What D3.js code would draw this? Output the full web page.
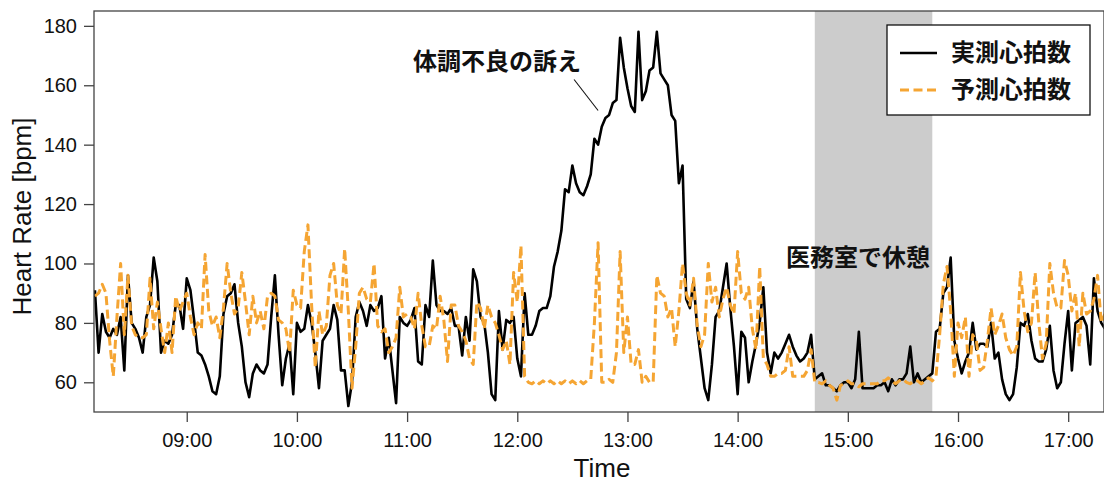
<!DOCTYPE html>
<html>
<head>
<meta charset="utf-8">
<script src="https://cdn.jsdelivr.net/npm/d3@7"></script>
<style>
  html, body { margin: 0; padding: 0; background: #fff; }
  svg { display: block; }
</style>
</head>
<body>
<svg id="chart" width="1104" height="484"></svg>
<script>
// Heart-rate log, one sample every 2 minutes starting at 08:10
const sampleStart = "08:10";
const sampleStepMin = 2;

// Measured heart rate [bpm]
const actualHR = [
  91, 70, 83, 77, 75, 78, 76, 82, 64, 96,
  80, 78, 75, 70, 82, 86, 102, 94, 70, 74,
  73, 76, 86, 86, 78, 95, 91, 81, 70, 69,
  66, 62, 57, 56, 62, 83, 89, 90, 93, 80,
  72, 60, 55, 63, 66, 64, 63, 66, 82, 96,
  76, 59, 68, 73, 56, 80, 77, 78, 86, 80,
  70, 58, 74, 76, 78, 86, 81, 64, 64, 52,
  60, 82, 87, 84, 79, 86, 84, 85, 89, 68,
  75, 64, 53, 82, 80, 79, 81, 85, 67, 66,
  86, 82, 101, 86, 84, 84, 83, 85, 79, 79,
  69, 82, 74, 98, 94, 82, 80, 70, 56, 54,
  84, 71, 81, 80, 82, 68, 62, 90, 76, 76,
  79, 84, 85, 85, 89, 99, 104, 111, 125, 124,
  133, 127, 124, 123, 126, 130, 142, 140, 146, 149,
  150, 154, 155, 176, 166, 159, 153, 151, 178, 155,
  158, 165, 166, 178, 164, 162, 160, 150, 148, 127,
  133, 88, 85, 94, 78, 68, 58, 54, 66, 82,
  84, 92, 100, 85, 72, 56, 77, 75, 60, 67,
  73, 80, 92, 70, 63, 70, 68, 70, 73, 76,
  72, 69, 67, 68, 70, 76, 61, 62, 63, 59,
  59, 58, 57, 59, 60, 60, 58, 61, 77, 58,
  58, 58, 58, 59, 59, 60, 57, 61, 59, 61,
  61, 63, 72, 60, 63, 60, 61, 62, 63, 77,
  78, 90, 92, 102, 74, 68, 63, 67, 70, 80,
  71, 73, 73, 72, 80, 68, 70, 61, 56, 54,
  56, 65, 80, 79, 83, 74, 68, 67, 67, 71,
  79, 64, 58, 60, 73, 84, 64, 80, 81, 82,
  79, 66, 95, 84, 80, 78
];

// Model-predicted heart rate [bpm]
const predictedHR = [
  89, 90, 93, 90, 74, 62, 82, 100, 76, 96,
  79, 76, 75, 75, 76, 95, 78, 87, 78, 70,
  80, 70, 89, 84, 87, 90, 82, 76, 80, 78,
  103, 84, 79, 82, 75, 85, 100, 90, 83, 85,
  97, 87, 76, 89, 80, 84, 78, 89, 90, 89,
  81, 80, 78, 70, 91, 86, 85, 104, 113, 86,
  65, 84, 76, 79, 96, 100, 86, 83, 105, 84,
  58, 72, 90, 92, 88, 87, 100, 79, 77, 78,
  70, 72, 75, 92, 82, 83, 82, 78, 90, 79,
  72, 72, 79, 78, 89, 81, 67, 86, 86, 79,
  77, 74, 68, 66, 87, 85, 78, 86, 82, 80,
  76, 71, 74, 66, 97, 87, 106, 62, 60, 59.5,
  60.5, 59.5, 60.5, 59.5, 60.5, 59.5, 60.5, 59.5, 60.5, 59.5,
  60.5, 59.5, 60.5, 59.5, 60.5, 61, 80, 107, 60, 60,
  61, 60, 70, 104, 70, 82, 66, 66, 71, 60,
  62, 60, 60, 96, 90, 89, 82, 85, 72, 84,
  100, 90, 86, 95, 79, 72, 76, 100, 87, 92,
  82, 88, 92, 86, 83, 104, 90, 88, 92, 78,
  71, 99, 68, 66, 62, 62, 63, 63, 64, 72,
  62, 62, 62, 62, 64, 71, 60, 60, 59.5, 60.5,
  59, 58, 54, 59, 59.5, 60.5, 59.5, 59.5, 58.5, 59.5,
  59.5, 59.5, 59.5, 59.5, 60.5, 60.5, 61.5, 60.5, 59.5, 60.5,
  61, 60, 59.5, 60.5, 60.5, 59.5, 60.5, 61.5, 60.5, 62,
  76, 93, 99, 84, 62, 80, 75, 82, 62, 76,
  74, 64, 65, 74, 85, 76, 79, 83, 75, 71,
  69, 72, 97, 84, 77, 80, 97, 80, 68, 73,
  100, 90, 85, 85, 101, 96, 84, 90, 72, 90,
  83, 84, 88, 96, 80, 83
];

// Axis settings
const timeRange = ["08:09:30", "17:19:30"];
const hrRange = [50, 185];
const hrTicks = [60, 80, 100, 120, 140, 160, 180];
const hourTicks = ["09:00", "10:00", "11:00", "12:00", "13:00", "14:00", "15:00", "16:00", "17:00"];

// Rest period in the infirmary
const restPeriod = ["14:42", "15:46"];

// Text
const legendLabels = ["実測心拍数", "予測心拍数"];
const complaintNote = { time: "12:44", hr: 151.5, text: "体調不良の訴え" };
const restNote = "医務室で休憩";
const xTitle = "Time";
const yTitle = "Heart Rate [bpm]";

const parseHM = d3.timeParse("%H:%M");
const parseHMS = d3.timeParse("%H:%M:%S");

const t0 = parseHM(sampleStart);
const toSeries = vals => vals.map((v, i) => ({
  t: d3.timeMinute.offset(t0, i * sampleStepMin), v
}));
const actual = toSeries(actualHR);
const predicted = toSeries(predictedHR);

const plot = { left: 94, right: 1104, top: 11, bottom: 412 };

const x = d3.scaleTime()
  .domain(timeRange.map(parseHMS))
  .range([plot.left, plot.right]);
const y = d3.scaleLinear()
  .domain(hrRange)
  .range([plot.bottom, plot.top]);

const svg = d3.select("#chart");
const latin = "'Liberation Sans', Arial, Helvetica, sans-serif";
const cjk = "'Noto Sans CJK JP', 'Noto Sans CJK SC', sans-serif";
const orange = "#F5A533";

svg.append("defs").append("clipPath").attr("id", "plotClip")
  .append("rect")
  .attr("x", plot.left).attr("y", plot.top)
  .attr("width", plot.right - plot.left).attr("height", plot.bottom - plot.top);

// Shaded rest period
svg.append("rect")
  .attr("x", x(parseHM(restPeriod[0])))
  .attr("y", plot.top)
  .attr("width", x(parseHM(restPeriod[1])) - x(parseHM(restPeriod[0])))
  .attr("height", plot.bottom - plot.top)
  .attr("fill", "#cccccc");

const line = d3.line().x(d => x(d.t)).y(d => y(d.v));

const lines = svg.append("g").attr("clip-path", "url(#plotClip)");
lines.append("path")
  .datum(actual)
  .attr("d", line)
  .attr("fill", "none")
  .attr("stroke", "#000")
  .attr("stroke-width", 2.6)
  .attr("stroke-linejoin", "round");
lines.append("path")
  .datum(predicted)
  .attr("d", line)
  .attr("fill", "none")
  .attr("stroke", orange)
  .attr("stroke-width", 3)
  .attr("stroke-dasharray", "9,4.5")
  .attr("stroke-linejoin", "round");

// Frame
svg.append("rect")
  .attr("x", plot.left).attr("y", plot.top)
  .attr("width", plot.right - plot.left).attr("height", plot.bottom - plot.top)
  .attr("fill", "none").attr("stroke", "#444").attr("stroke-width", 1.3);

// Axes
const yAxis = svg.append("g")
  .attr("transform", `translate(${plot.left},0)`)
  .call(d3.axisLeft(y).tickValues(hrTicks).tickSize(10).tickPadding(7));
const xAxis = svg.append("g")
  .attr("transform", `translate(0,${plot.bottom})`)
  .call(d3.axisBottom(x).tickValues(hourTicks.map(parseHM))
    .tickFormat(d3.timeFormat("%H:%M")).tickSize(10).tickPadding(11));
[xAxis, yAxis].forEach(g => {
  g.select(".domain").remove();
  g.selectAll(".tick line").attr("stroke", "#444").attr("stroke-width", 1.3);
  g.selectAll(".tick text").attr("fill", "#111")
    .style("font-family", latin).style("font-size", "20px");
});

svg.append("text")
  .attr("x", (plot.left + plot.right) / 2 + 3).attr("y", 477)
  .attr("text-anchor", "middle")
  .style("font-family", latin).style("font-size", "26px").attr("fill", "#111")
  .text(xTitle);
svg.append("text")
  .attr("transform", `translate(31,${(plot.top + plot.bottom) / 2 + 5}) rotate(-90)`)
  .attr("text-anchor", "middle")
  .style("font-family", latin).style("font-size", "26px").attr("fill", "#111")
  .text(yTitle);

// Annotations
const nx = x(parseHM(complaintNote.time)), ny = y(complaintNote.hr);
svg.append("line")
  .attr("x1", nx).attr("y1", ny)
  .attr("x2", nx - 24).attr("y2", ny - 31)
  .attr("stroke", "#111").attr("stroke-width", 1.1);
svg.append("text")
  .attr("x", 497).attr("y", 70)
  .attr("text-anchor", "middle")
  .style("font-family", cjk).style("font-size", "24px").style("font-weight", 700)
  .attr("fill", "#111")
  .text(complaintNote.text);
svg.append("text")
  .attr("x", 858).attr("y", 266)
  .attr("text-anchor", "middle")
  .style("font-family", cjk).style("font-size", "24px").style("font-weight", 700)
  .attr("fill", "#111")
  .text(restNote);

// Legend
const lg = svg.append("g");
lg.append("rect")
  .attr("x", 887).attr("y", 25).attr("width", 203).attr("height", 90)
  .attr("fill", "#fff").attr("stroke", "#111").attr("stroke-width", 1.3);
const legendStyles = [
  { stroke: "#000", width: 2.6, dash: null },
  { stroke: orange, width: 3, dash: "9,4.5" }
];
legendLabels.forEach((label, i) => {
  const ly = 53 + i * 37;
  lg.append("line")
    .attr("x1", 900).attr("x2", 937).attr("y1", ly).attr("y2", ly)
    .attr("stroke", legendStyles[i].stroke)
    .attr("stroke-width", legendStyles[i].width)
    .attr("stroke-dasharray", legendStyles[i].dash);
  lg.append("text")
    .attr("x", 951).attr("y", ly + 8)
    .style("font-family", cjk).style("font-size", "24px").style("font-weight", 700)
    .attr("fill", "#111")
    .text(label);
});
</script>
</body>
</html>
